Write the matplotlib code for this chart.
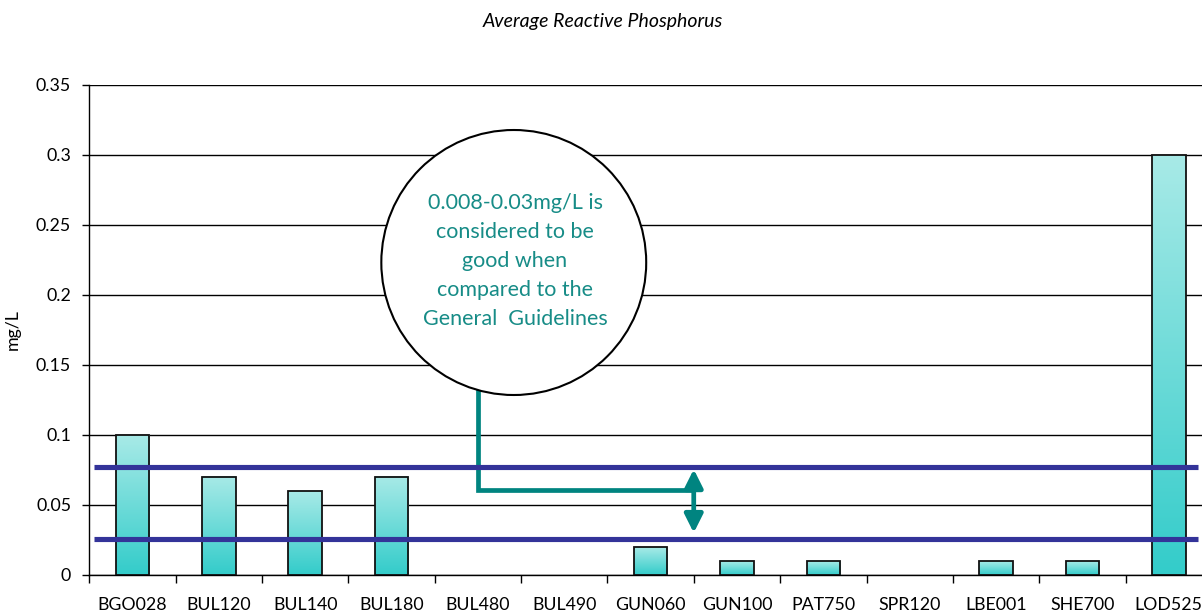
import numpy as np
import matplotlib
matplotlib.use("Agg")
import matplotlib.pyplot as plt
from matplotlib.colors import LinearSegmentedColormap
from matplotlib.patches import Ellipse, FancyArrowPatch, ArrowStyle

plt.rcParams['font.family'] = ['Lato', 'DejaVu Sans']

# Sites and average reactive phosphorus (mg/L)
sites = ["BGO028", "BUL120", "BUL140", "BUL180", "BUL480", "BUL490", "GUN060",
         "GUN100", "PAT750", "SPR120", "LBE001", "SHE700", "LOD525"]
phosphorus = [0.10, 0.07, 0.06, 0.07, 0.0, 0.0, 0.02,
              0.01, 0.01, 0.0, 0.01, 0.01, 0.30]

# Guideline band drawn across the chart
guideline_levels = [0.0255, 0.0771]

y_ticks = [0, 0.05, 0.1, 0.15, 0.2, 0.25, 0.3, 0.35]
y_tick_labels = ["0", "0.05", "0.1", "0.15", "0.2", "0.25", "0.3", "0.35"]

note = ("0.008-0.03mg/L is\nconsidered to be\ngood when\n"
        "compared to the\nGeneral  Guidelines")

W, H = 1202, 616
fig = plt.figure(figsize=(W / 100, H / 100), dpi=100)
ax = fig.add_axes([89.3 / W, (H - 574.7) / H, (1212 - 89.3) / W, 490 / H])

x = np.arange(len(sites))
bar_w = 0.39

# gradient-filled bars: light cyan at the top, turquoise at the base
cmap = LinearSegmentedColormap.from_list("bar", ["#33CCCA", "#A8EAE7"])
grad = np.linspace(0, 1, 256).reshape(-1, 1)
for xi, v in zip(x, phosphorus):
    if v > 0:
        ax.imshow(grad, extent=[xi - bar_w / 2, xi + bar_w / 2, 0, v],
                  origin="lower", aspect="auto", cmap=cmap, zorder=2,
                  interpolation="bilinear")
edge_widths = [1.3 if v > 0 else 0 for v in phosphorus]
ax.bar(x, phosphorus, width=bar_w, facecolor="none", edgecolor="#111111",
       linewidth=edge_widths, zorder=3)
ax.set_xlim(-0.5, len(sites) - 0.5)
ax.set_ylim(0, 0.35)

# grid and axes styling
ax.set_yticks(y_ticks)
ax.set_yticklabels(y_tick_labels)
ax.yaxis.grid(True, color="#000000", linewidth=1.0, zorder=0)
ax.set_axisbelow(True)
ax.set_xticks(x)
ax.set_xticklabels(sites)
ax.set_xticks(np.arange(-0.5, len(sites), 1.0), minor=True)
ax.tick_params(axis="x", which="major", length=0, pad=16, labelsize=12.8,
               colors="#000000")
ax.tick_params(axis="x", which="minor", length=6, width=1.0, direction="out")
ax.tick_params(axis="y", length=5, width=1.0, direction="out", pad=8,
               labelsize=12.8)
for side in ("top", "right"):
    ax.spines[side].set_visible(False)
for side in ("left", "bottom"):
    ax.spines[side].set_linewidth(1.0)
    ax.spines[side].set_color("#000000")
ax.set_ylabel("mg/L", fontsize=12.8, labelpad=11)

# guideline band lines
for lvl in guideline_levels:
    ax.plot([-0.442, 12.335], [lvl, lvl], color="#333399", linewidth=3.7,
            solid_capstyle="butt", zorder=5)

teal = "#008480"
# connector from the note to the band
ax.plot([4.005, 4.005, 6.499], [0.16, 0.0603, 0.0603], color=teal,
        linewidth=3.4, solid_joinstyle="miter", solid_capstyle="butt",
        zorder=4)
arrow = FancyArrowPatch((6.499, 0.0299), (6.499, 0.0753),
                        arrowstyle=ArrowStyle("<|-|>", head_length=1.1,
                                              head_width=0.55),
                        mutation_scale=10, color=teal, linewidth=3.4,
                        shrinkA=0, shrinkB=0, zorder=6)
ax.add_patch(arrow)

# round callout
circle = Ellipse((4.415, 0.223), width=265 / 86.4, height=265 / 1400,
                 facecolor="white", edgecolor="#000000", linewidth=1.5,
                 zorder=7, clip_on=False)
ax.add_patch(circle)
ax.text(4.43, 0.2241, note, ha="center", va="center", multialignment="center",
        fontsize=15.5, linespacing=1.56, color="#178C87", zorder=8)

fig.text(603 / W, 1 - 22 / H, "Average Reactive Phosphorus", ha="center",
         va="center", style="italic", fontsize=14, color="#000000")

fig.savefig("out.png", dpi=100)
